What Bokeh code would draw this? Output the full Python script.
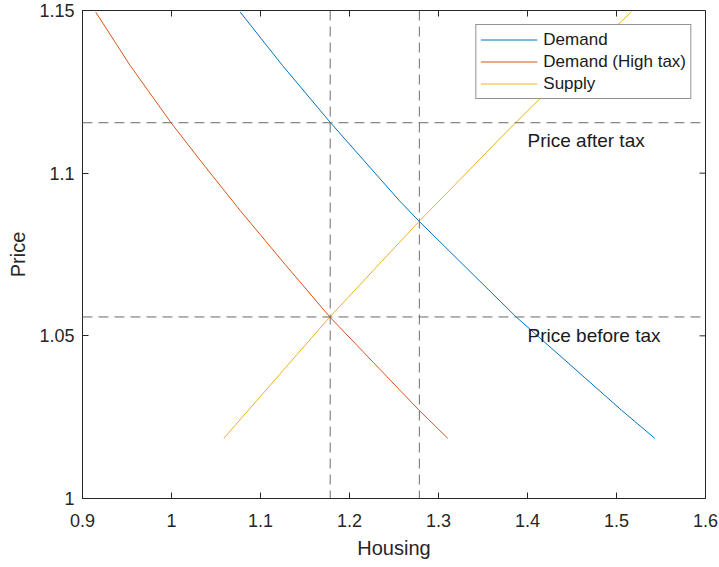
from bokeh.plotting import figure
from bokeh.models import Range1d, FixedTicker, Span, Legend, LegendItem
from bokeh.core.properties import value
from bokeh.embed import file_html
from bokeh.resources import INLINE

# ---- data ----
demand_x = [1.0772, 1.1247, 1.1787, 1.2562, 1.2783, 1.3873, 1.5058, 1.5430]
demand_y = [1.1495, 1.1331, 1.1155, 1.0915, 1.0852, 1.0558, 1.0271, 1.0185]

high_tax_x = [0.9149, 0.9535, 0.9995, 1.0335, 1.0772, 1.1275, 1.1779, 1.2783, 1.3104]
high_tax_y = [1.1495, 1.1331, 1.1155, 1.1035, 1.0885, 1.0720, 1.0558, 1.0271, 1.0185]

supply_x = [1.0588, 1.1779, 1.2783, 1.3865, 1.4165, 1.5165]
supply_y = [1.0185, 1.0558, 1.0852, 1.1155, 1.1235, 1.1495]

price_levels = [1.1155, 1.0558]        # horizontal dashed lines
quantity_levels = [1.1783, 1.2785]     # vertical dashed lines

note_x = [1.4, 1.4]
note_y = [1.11, 1.05]
note_text = ["Price after tax", "Price before tax"]

x_range = (0.9, 1.6)
y_range = (1.0, 1.15)
x_ticks = [0.9, 1.0, 1.1, 1.2, 1.3, 1.4, 1.5, 1.6]
x_tick_labels = ["0.9", "1", "1.1", "1.2", "1.3", "1.4", "1.5", "1.6"]
y_ticks = [1.0, 1.05, 1.1, 1.15]
y_tick_labels = ["1", "1.05", "1.1", "1.15"]

FONT = "Liberation Sans"
AX = "#262626"
FRAME_W, FRAME_H = 623, 488
TICK_PX = 6

p = figure(width=719, height=567, output_backend="svg", toolbar_location=None,
           x_range=Range1d(*x_range), y_range=Range1d(*y_range),
           min_border_left=82, min_border_right=14, min_border_top=10, min_border_bottom=69,
           x_axis_label="Housing", y_axis_label="Price")
p.grid.visible = False
p.outline_line_color = AX
p.outline_line_width = 1
p.background_fill_color = "white"
p.border_fill_color = "white"

for ax in (p.xaxis[0], p.yaxis[0]):
    ax.axis_line_color = AX
    ax.major_tick_line_color = AX
    ax.major_tick_in = TICK_PX
    ax.major_tick_out = 0
    ax.minor_tick_line_color = None
    ax.major_label_text_font = FONT
    ax.major_label_text_font_size = "18px"
    ax.major_label_text_color = AX
    ax.axis_label_text_font = FONT
    ax.axis_label_text_font_size = "20px"
    ax.axis_label_text_font_style = "normal"
    ax.axis_label_text_color = AX

p.xaxis[0].ticker = FixedTicker(ticks=x_ticks)
p.xaxis[0].major_label_overrides = dict(zip(x_ticks, x_tick_labels))
p.xaxis[0].major_label_standoff = 15
p.xaxis[0].axis_label_standoff = 7
p.yaxis[0].ticker = FixedTicker(ticks=y_ticks)
p.yaxis[0].major_label_overrides = dict(zip(y_ticks, y_tick_labels))
p.yaxis[0].major_label_standoff = 8
p.yaxis[0].axis_label_standoff = 7

# mirrored inward ticks on the top and right edges (box on)
dy = TICK_PX * (y_range[1] - y_range[0]) / FRAME_H
dx = TICK_PX * (x_range[1] - x_range[0]) / FRAME_W
p.segment(x0=x_ticks, y0=[y_range[1]] * len(x_ticks), x1=x_ticks,
          y1=[y_range[1] - dy] * len(x_ticks), line_color=AX, line_width=1)
p.segment(x0=[x_range[1]] * len(y_ticks), y0=y_ticks, x1=[x_range[1] - dx] * len(y_ticks),
          y1=y_ticks, line_color=AX, line_width=1)

# dashed reference lines
for lvl in price_levels:
    p.add_layout(Span(location=lvl, dimension="width", line_color="#6b6b6b",
                      line_width=1, line_dash="10 6"))
for lvl in quantity_levels:
    p.add_layout(Span(location=lvl, dimension="height", line_color="#6b6b6b",
                      line_width=1, line_dash="10 6"))

r1 = p.line(demand_x, demand_y, line_color="#0072BD", line_width=1)
r2 = p.line(high_tax_x, high_tax_y, line_color="#D95319", line_width=1)
r3 = p.line(supply_x, supply_y, line_color="#EDB120", line_width=1)

p.text(x=note_x, y=note_y, text=note_text, text_font=value(FONT), text_font_size="19px",
       text_color="#1a1a1a", text_align="left", text_baseline="middle")

legend = Legend(items=[LegendItem(label="Demand", renderers=[r1]),
                       LegendItem(label="Demand (High tax)", renderers=[r2]),
                       LegendItem(label="Supply", renderers=[r3])],
                location="top_right", margin=14, padding=4, spacing=1,
                label_height=21, glyph_height=21, glyph_width=57, label_standoff=6,
                label_text_font=FONT, label_text_font_size="17px", label_text_color="#1a1a1a",
                border_line_color=AX, border_line_width=1, background_fill_color="white",
                background_fill_alpha=1)
p.add_layout(legend)

open("out.html", "w").write(file_html(p, INLINE))
